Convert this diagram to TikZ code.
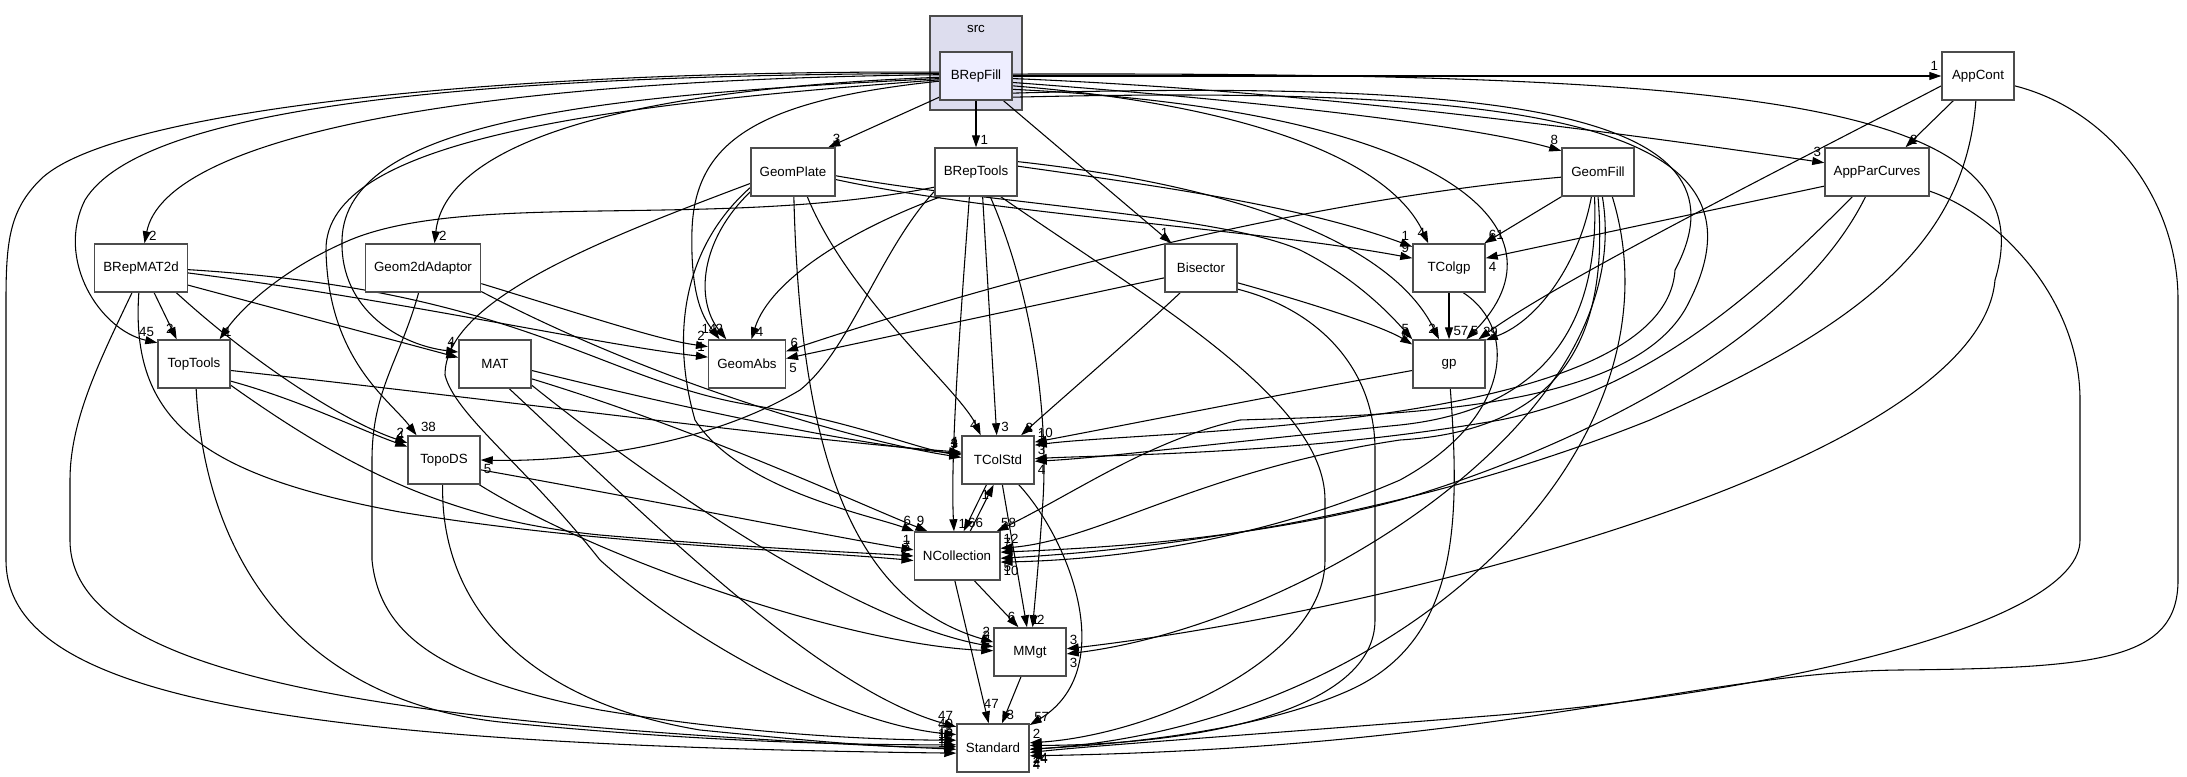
\documentclass[tikz,border=0pt]{standalone}
\usepackage{fontspec}
\setmainfont{Liberation Sans}
\usetikzlibrary{arrows.meta,positioning}
\pgfdeclarelayer{clusterlayer}
\pgfdeclarelayer{edgelayer}
\pgfsetlayers{clusterlayer,edgelayer,main}
\definecolor{clusterfill}{HTML}{DDDDEE}
\definecolor{selffill}{HTML}{EEEEFF}

\begin{document}
\begin{tikzpicture}[x=0.75pt,y=-0.75pt,
  dirbox/.style={draw=black!70,line width=1.1pt,fill=white,minimum width=54pt,minimum height=36pt,inner xsep=6.5pt,font=\fontsize{10}{12}\selectfont},
  dep/.style={line width=0.8pt,-{Triangle[length=9pt,width=6pt]}},
  lbl/.style={font=\fontsize{10}{11}\selectfont,inner sep=1pt},
  hl/.style={lbl,anchor=south west,xshift=2pt,yshift=1pt},
  hlw/.style={lbl,anchor=south east,xshift=-1pt,yshift=3pt},
  hle/.style={lbl,anchor=north west,xshift=1pt,yshift=-2pt},
  hlne/.style={lbl,anchor=south west,xshift=1pt,yshift=2pt},
  hln/.style={lbl,anchor=south,xshift=2pt,yshift=10pt}]
\useasboundingbox (0,0) rectangle (2187,777);

\begin{pgfonlayer}{clusterlayer}
\draw[fill=clusterfill,draw=black!70,line width=1.1pt] (930,16) rectangle (1022,110);
\end{pgfonlayer}
\node[font=\fontsize{10}{12}\selectfont] (srclabel) at (976,29) {src};

\node[dirbox,fill=selffill] (brepfill) at (976,76) {BRepFill};
\node[dirbox] (appcont) at (1978,76) {AppCont};
\node[dirbox] (geomplate) at (793,172) {GeomPlate};
\node[dirbox] (breptools) at (976,172) {BRepTools};
\node[dirbox] (geomfill) at (1598,172) {GeomFill};
\node[dirbox] (appparcurves) at (1877,172) {AppParCurves};
\node[dirbox] (brepmat2d) at (141,268) {BRepMAT2d};
\node[dirbox] (geom2dadaptor) at (423,268) {Geom2dAdaptor};
\node[dirbox] (bisector) at (1201,268) {Bisector};
\node[dirbox] (tcolgp) at (1449,268) {TColgp};
\node[dirbox] (toptools) at (194,364) {TopTools};
\node[dirbox] (mat) at (495,364) {MAT};
\node[dirbox] (geomabs) at (747,364) {GeomAbs};
\node[dirbox] (gp) at (1449,364) {gp};
\node[dirbox] (topods) at (444,460) {TopoDS};
\node[dirbox] (tcolstd) at (998,460) {TColStd};
\node[dirbox] (ncollection) at (957,556) {NCollection};
\node[dirbox] (mmgt) at (1030,652) {MMgt};
\node[dirbox] (standard) at (993,748) {Standard};

\begin{pgfonlayer}{edgelayer}
\draw[dep] (brepfill.east) -- (appcont.west) node[hlw] {1};
\draw[dep] (brepfill.-4) .. controls (1300,90) and (1600,130) .. (appparcurves.170) node[hlw] {3};
\draw[dep] (brepfill.-10) .. controls (1250,100) and (1470,125) .. (geomfill.150) node[hlw] {8};
\draw[dep] (brepfill.-15) .. controls (1250,105) and (1390,160) .. (tcolgp.130) node[hlw] {4};
\draw[dep] (brepfill.-20) .. controls (1450,110) and (1575,230) .. (gp.55) node[hl] {5};
\draw[dep] (brepfill.-25) .. controls (1500,80) and (1760,110) .. (1675,270) .. controls (1665,430) and (1150,430) .. (tcolstd.22) node[hlne] {1};
\draw[dep] (brepfill.-30) .. controls (1520,85) and (1780,120) .. (1690,300) .. controls (1640,410) and (1400,415) .. (1240,420) .. controls (1150,440) and (1080,490) .. (ncollection.32) node[hl] {58};
\draw[dep] (brepfill.3) .. controls (1750,72) and (2050,100) .. (1995,280) .. controls (1980,460) and (1400,610) .. (mmgt.5) node[hlne] {3};
\draw[dep] (brepfill.-42) -- (bisector.140) node[hlw] {1};
\draw[dep] (brepfill.210) -- (geomplate.35) node[hl] {3};
\draw[dep] (brepfill.south) -- (breptools.north) node[hl] {1};
\draw[dep] (brepfill.178) .. controls (450,80) and (165,140) .. (brepmat2d.82) node[hl] {2};
\draw[dep] (brepfill.182) .. controls (600,90) and (445,150) .. (geom2dadaptor.65) node[hl] {2};
\draw[dep] (brepfill.176) .. controls (450,75) and (140,110) .. (85,200) .. controls (55,260) and (100,330) .. (toptools.150) node[hlw] {45};
\draw[dep] (brepfill.184) .. controls (600,95) and (345,120) .. (342,240) .. controls (340,310) and (400,345) .. (mat.162) node[hlw] {4};
\draw[dep] (brepfill.186) .. controls (600,105) and (325,140) .. (326,250) .. controls (328,360) and (390,400) .. (topods.138) node[hl] {38};
\draw[dep] (brepfill.188) .. controls (760,100) and (695,140) .. (692,230) .. controls (690,300) and (705,320) .. (geomabs.138) node[hlw] {14};
\draw[dep] (brepfill.174) .. controls (500,70) and (110,110) .. (40,180) .. controls (10,210) and (6,240) .. (6,300) -- (6,560) .. controls (6,700) and (300,745) .. (standard.188) node[hlw] {13};

\draw[dep] (appcont.225) -- (appparcurves.41) node[hl] {2};
\draw[dep] (appcont.195) .. controls (1780,170) and (1560,280) .. (gp.40) node[hl] {2};
\draw[dep] (appcont.265) .. controls (1965,250) and (1850,330) .. (1650,420) .. controls (1400,520) and (1150,550) .. (ncollection.-3) node[hle] {5};
\draw[dep] (appcont.-15) .. controls (2110,110) and (2178,200) .. (2178,300) -- (2178,580) .. controls (2178,660) and (2100,668) .. (1900,670) .. controls (1700,672) and (1500,748) .. (standard.-12) node[hle] {4};

\draw[dep] (appparcurves.195) -- (tcolgp.15) node[hle] {4};
\draw[dep] (appparcurves.225) .. controls (1760,290) and (1650,390) .. (1500,420) .. controls (1300,455) and (1100,455) .. (tcolstd.2) node[hlne] {3};
\draw[dep] (appparcurves.245) .. controls (1800,330) and (1600,440) .. (1400,500) .. controls (1250,540) and (1100,548) .. (ncollection.5) node[hlne] {7};
\draw[dep] (appparcurves.-20) .. controls (2000,215) and (2080,300) .. (2080,400) -- (2080,540) .. controls (2080,620) and (1800,690) .. (1500,715) .. controls (1250,735) and (1100,745) .. (standard.-7) node[hle] {2};

\draw[dep] (geomfill.214) -- (tcolgp.35) node[hl] {61};
\draw[dep] (geomfill.188) .. controls (1300,200) and (1000,280) .. (geomabs.18) node[hl] {6};
\draw[dep] (geomfill.255) .. controls (1580,260) and (1540,320) .. (gp.33) node[hl] {9};
\draw[dep] (geomfill.262) .. controls (1600,330) and (1540,410) .. (1400,425) .. controls (1200,445) and (1100,458) .. (tcolstd.-2) node[hle] {4};
\draw[dep] (geomfill.270) .. controls (1610,340) and (1560,430) .. (1400,440) .. controls (1200,470) and (1100,540) .. (ncollection.10) node[hlne] {12};
\draw[dep] (geomfill.280) .. controls (1640,420) and (1300,625) .. (mmgt.-3) node[hle] {3};
\draw[dep] (geomfill.-60) .. controls (1690,450) and (1400,725) .. (standard.-2) node[hle] {14};

\draw[dep] (geomplate.205) .. controls (700,240) and (695,300) .. (geomabs.130) node[hlw] {2};
\draw[dep] (geomplate.-10) .. controls (1000,215) and (1250,228) .. (tcolgp.165) node[hlw] {9};
\draw[dep] (geomplate.-5) .. controls (1000,205) and (1220,215) .. (1300,250) .. controls (1360,280) and (1395,320) .. (gp.146) node[hlw] {5};
\draw[dep] (geomplate.-60) .. controls (850,300) and (960,390) .. (tcolstd.125) node[hlw] {4};
\draw[dep] (geomplate.200) .. controls (680,250) and (672,340) .. (695,420) .. controls (740,490) and (870,515) .. (ncollection.150) node[hlw] {6};
\draw[dep] (geomplate.-88) .. controls (800,450) and (850,600) .. (mmgt.165) node[hlw] {2};
\draw[dep] (geomplate.195) .. controls (600,240) and (445,300) .. (445,375) .. controls (455,415) and (525,465) .. (600,560) .. controls (700,650) and (850,725) .. (standard.160) node[hlw] {40};

\draw[dep] (breptools.200) .. controls (720,230) and (470,190) .. (350,240) .. controls (280,270) and (240,310) .. (toptools.44) node[hl] {1};
\draw[dep] (breptools.205) .. controls (880,250) and (850,350) .. (800,390) .. controls (700,450) and (560,462) .. (topods.east) node[hle] {5};
\draw[dep] (breptools.215) .. controls (850,230) and (770,280) .. (geomabs.80) node[hl] {4};
\draw[dep] (breptools.8) .. controls (1150,185) and (1300,205) .. (tcolgp.150) node[hlw] {1};
\draw[dep] (breptools.14) .. controls (1230,185) and (1390,240) .. (gp.112) node[hlw] {2};
\draw[dep] (breptools.-75) -- (tcolstd.93) node[hl] {3};
\draw[dep] (breptools.-105) .. controls (962,300) and (950,450) .. (ncollection.97) node[hl] {1};
\draw[dep] (breptools.-60) .. controls (1035,300) and (1048,420) .. (1043,500) .. controls (1039,560) and (1035,600) .. (mmgt.84) node[hl] {2};
\draw[dep] (breptools.-45) .. controls (1150,300) and (1325,400) .. (1325,500) -- (1325,560) .. controls (1325,660) and (1150,735) .. (standard.8) node[hlne] {2};

\draw[dep] (brepmat2d.-62) -- (toptools.125) node[hlw] {2};
\draw[dep] (brepmat2d.-20) -- (mat.170) node[hlw] {1};
\draw[dep] (brepmat2d.-6) .. controls (400,300) and (600,345) .. (geomabs.170) node[hlw] {1};
\draw[dep] (brepmat2d.-2) .. controls (520,290) and (600,380) .. (750,405) .. controls (850,420) and (920,450) .. (tcolstd.172) node[hlw] {3};
\draw[dep] (brepmat2d.-35) .. controls (250,360) and (340,420) .. (topods.155) node[hlw] {2};
\draw[dep] (brepmat2d.-95) .. controls (130,420) and (200,475) .. (400,512) .. controls (600,545) and (800,550) .. (ncollection.186) node[hlw] {2};
\draw[dep] (brepmat2d.-110) .. controls (100,360) and (70,420) .. (70,480) -- (70,540) .. controls (70,680) and (400,725) .. (standard.182) node[hlw] {18};

\draw[dep] (geom2dadaptor.-15) .. controls (600,320) and (660,340) .. (geomabs.156) node[hlw] {2};
\draw[dep] (geom2dadaptor.-22) .. controls (650,380) and (850,440) .. (tcolstd.176) node[hlw] {2};
\draw[dep] (geom2dadaptor.-100) .. controls (400,360) and (372,390) .. (372,460) -- (372,560) .. controls (380,640) and (450,680) .. (600,710) .. controls (750,735) and (880,740) .. (standard.168) node[hlw] {15};

\draw[dep] (bisector.195) -- (geomabs.8) node[hle] {5};
\draw[dep] (bisector.-22) .. controls (1300,300) and (1380,325) .. (gp.152) node[hlw] {6};
\draw[dep] (bisector.230) .. controls (1130,340) and (1060,400) .. (tcolstd.47) node[hl] {2};
\draw[dep] (bisector.-30) .. controls (1320,310) and (1375,370) .. (1375,450) -- (1375,620) .. controls (1375,710) and (1200,745) .. (standard.4) node[hle] {4};

\draw[dep] (tcolgp.south) -- (gp.north) node[hl] {57};
\draw[dep] (tcolgp.-60) .. controls (1520,330) and (1510,420) .. (1400,480) .. controls (1250,545) and (1100,560) .. (ncollection.-8) node[hle] {10};

\draw[dep] (toptools.-25) .. controls (300,400) and (360,430) .. (topods.160) node[hlw] {4};
\draw[dep] (toptools.-10) .. controls (500,400) and (800,440) .. (tcolstd.168) node[hlw] {4};
\draw[dep] (toptools.-30) .. controls (350,470) and (450,520) .. (600,535) .. controls (750,548) and (850,552) .. (ncollection.180) node[hlw] {7};
\draw[dep] (toptools.-85) .. controls (205,560) and (300,700) .. (500,722) .. controls (700,742) and (850,745) .. (standard.175) node[hlw] {16};

\draw[dep] (mat.-10) .. controls (650,400) and (850,445) .. (tcolstd.170) node[hlw] {1};
\draw[dep] (mat.-22) .. controls (700,430) and (850,500) .. (ncollection.140) node[hlw] {9};
\draw[dep] (mat.-30) .. controls (650,480) and (850,620) .. (mmgt.172) node[hlw] {2};
\draw[dep] (mat.-60) .. controls (650,520) and (820,690) .. (standard.150) node[hlw] {47};

\draw[dep] (topods.-15) .. controls (650,500) and (850,540) .. (ncollection.172) node[hlw] {1};
\draw[dep] (topods.-35) .. controls (600,560) and (850,645) .. (mmgt.178) node[hlw] {2};
\draw[dep] (topods.-93) .. controls (440,600) and (520,700) .. (700,730) .. controls (850,745) and (900,748) .. (standard.178) node[hlw] {12};

\draw[dep] (gp.190) .. controls (1250,400) and (1100,430) .. (tcolstd.26) node[hlne] {10};
\draw[dep] (gp.-87) .. controls (1460,520) and (1460,640) .. (1350,690) .. controls (1250,735) and (1100,745) .. (standard.-2) node[hle] {24};

\draw[dep] (tcolstd.-115) -- (ncollection.75) node[hl] {66};
\draw[dep] (ncollection.62) -- (tcolstd.-100) node[lbl,anchor=north east,xshift=-2pt,yshift=-3pt] {1};
\draw[dep] (tcolstd.-80) -- (mmgt.97) node[hl] {1};
\draw[dep] (tcolstd.-50) .. controls (1070,540) and (1120,670) .. (standard.32) node[hl] {57};
\draw[dep] (ncollection.-55) -- (mmgt.115) node[hlw] {6};
\draw[dep] (ncollection.-95) -- (standard.100) node[hln] {47};
\draw[dep] (mmgt.-110) -- (standard.70) node[hl] {3};
\end{pgfonlayer}
\end{tikzpicture}
\end{document}
